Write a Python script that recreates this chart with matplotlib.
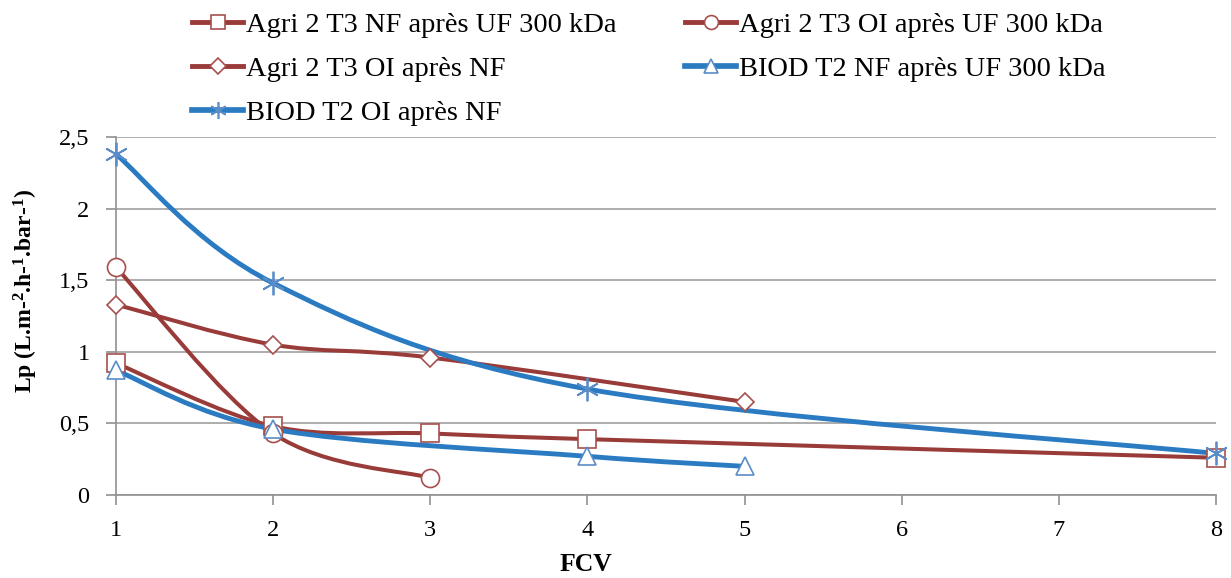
import matplotlib
matplotlib.use("Agg")
import matplotlib.pyplot as plt
from matplotlib.path import Path
from matplotlib.patches import PathPatch
from matplotlib.lines import Line2D
import numpy as np

plt.rcParams['font.family'] = ['Liberation Serif', 'DejaVu Serif']
plt.rcParams['mathtext.default'] = 'regular'

# Data
labels = ["Agri 2 T3 NF après UF 300 kDa", "Agri 2 T3 OI après UF 300 kDa",
          "Agri 2 T3 OI après NF", "BIOD T2 NF après UF 300 kDa",
          "BIOD T2 OI après NF"]
x_nf_uf = [1, 2, 3, 4, 8]
y_nf_uf = [0.92, 0.48, 0.43, 0.39, 0.26]
x_oi_uf = [1, 2, 3]
y_oi_uf = [1.59, 0.43, 0.12]
x_oi_nf = [1, 2, 3, 5]
y_oi_nf = [1.33, 1.05, 0.96, 0.65]
x_biod_nf = [1, 2, 4, 5]
y_biod_nf = [0.87, 0.46, 0.27, 0.20]
x_biod_oi = [1, 2, 4, 8]
y_biod_oi = [2.38, 1.48, 0.74, 0.29]
xticks = [1, 2, 3, 4, 5, 6, 7, 8]
yticks = [0, 0.5, 1, 1.5, 2, 2.5]
yticklabels = ["0", "0,5", "1", "1,5", "2", "2,5"]

RED = '#993B39'
BLUE = '#2A7BC2'
RED_M = '#A6504E'
BLUE_M = '#5A8CC8'

fig = plt.figure(figsize=(12.31, 5.78), dpi=100)
ax = fig.add_axes([0.0942, 0.1436, 0.8936, 0.6194])


def smooth_path(xs, ys):
    pts = np.column_stack([xs, ys]).astype(float)
    n = len(pts)
    verts = [pts[0]]
    codes = [Path.MOVETO]
    for i in range(n - 1):
        p0 = pts[i - 1] if i > 0 else pts[i]
        p1 = pts[i]
        p2 = pts[i + 1]
        p3 = pts[i + 2] if i + 2 < n else pts[i + 1]
        c1 = p1 + (p2 - p0) / 6.0
        c2 = p2 - (p3 - p1) / 6.0
        verts += [c1, c2, p2]
        codes += [Path.CURVE4] * 3
    return Path(verts, codes)


series = [
    (x_nf_uf, y_nf_uf, RED, RED_M, 's', 13, 2.9, 10),
    (x_oi_uf, y_oi_uf, RED, RED_M, 'o', 13, 2.9, 10),
    (x_oi_nf, y_oi_nf, RED, RED_M, 'D', 9, 2.9, 8),
    (x_biod_nf, y_biod_nf, BLUE, BLUE_M, '^', 13, 3.5, 10),
    (x_biod_oi, y_biod_oi, BLUE, BLUE_M, (6, 2, 0), 17, 3.5, 12),
]
handles = []
for (xs, ys, c, mc, m, ms, lw, lms), lab in zip(series, labels):
    patch = PathPatch(smooth_path(xs, ys), facecolor='none', edgecolor=c,
                      lw=lw, zorder=3, capstyle='round', joinstyle='round',
                      clip_on=False)
    ax.add_patch(patch)
    if isinstance(m, tuple):
        ax.plot(xs, ys, linestyle='none', marker=m,
                markersize=ms, markeredgecolor=mc, markeredgewidth=1.3,
                zorder=4, clip_on=False)
    else:
        ax.plot(xs, ys, linestyle='none', marker=m, markersize=ms,
                markerfacecolor='white', markeredgecolor=mc,
                markeredgewidth=1.2, zorder=4, clip_on=False)
    h = Line2D([], [], color=c, lw=lw + 0.6, marker=m, markersize=lms,
               markerfacecolor='white', markeredgecolor=mc,
               markeredgewidth=1.2)
    handles.append((h, lab))

ax.set_xlim(1, 8)
ax.set_ylim(0, 2.5)
ax.set_xticks(xticks)
ax.set_xticklabels([str(t) for t in xticks])
ax.set_yticks(yticks)
ax.set_yticklabels(yticklabels)
ax.grid(axis='y', color='#A0A0A0', lw=1.2)
ax.set_axisbelow(True)
for s in ['top', 'right']:
    ax.spines[s].set_visible(False)
for s in ['left', 'bottom']:
    ax.spines[s].set_color('#909090')
    ax.spines[s].set_linewidth(1.2)
ax.tick_params(axis='both', colors='#909090', length=7, width=1.2,
               labelsize=17.5, labelcolor='black')
ax.tick_params(axis='x', pad=11)
ax.tick_params(axis='y', pad=12)

ax.set_xlabel("FCV", fontsize=18.5, fontweight='bold')
ax.xaxis.set_label_coords(0.427, -0.162)
ax.set_ylabel("Lp (L.m-$^{2}$.h-$^{1}$.bar-$^{1}$)", fontsize=17,
              fontweight='bold')
ax.yaxis.set_label_coords(-0.069, 0.57)

order = [0, 2, 4, 1, 3]
leg = fig.legend([handles[i][0] for i in order], [handles[i][1] for i in order],
                 ncol=2, loc='upper left', bbox_to_anchor=(0.156, 0.979),
                 frameon=False, fontsize=20.5, handlelength=1.8,
                 handletextpad=0.1, columnspacing=2.4, labelspacing=0.63,
                 borderpad=0, borderaxespad=0)

fig.savefig("out.png", dpi=100)
